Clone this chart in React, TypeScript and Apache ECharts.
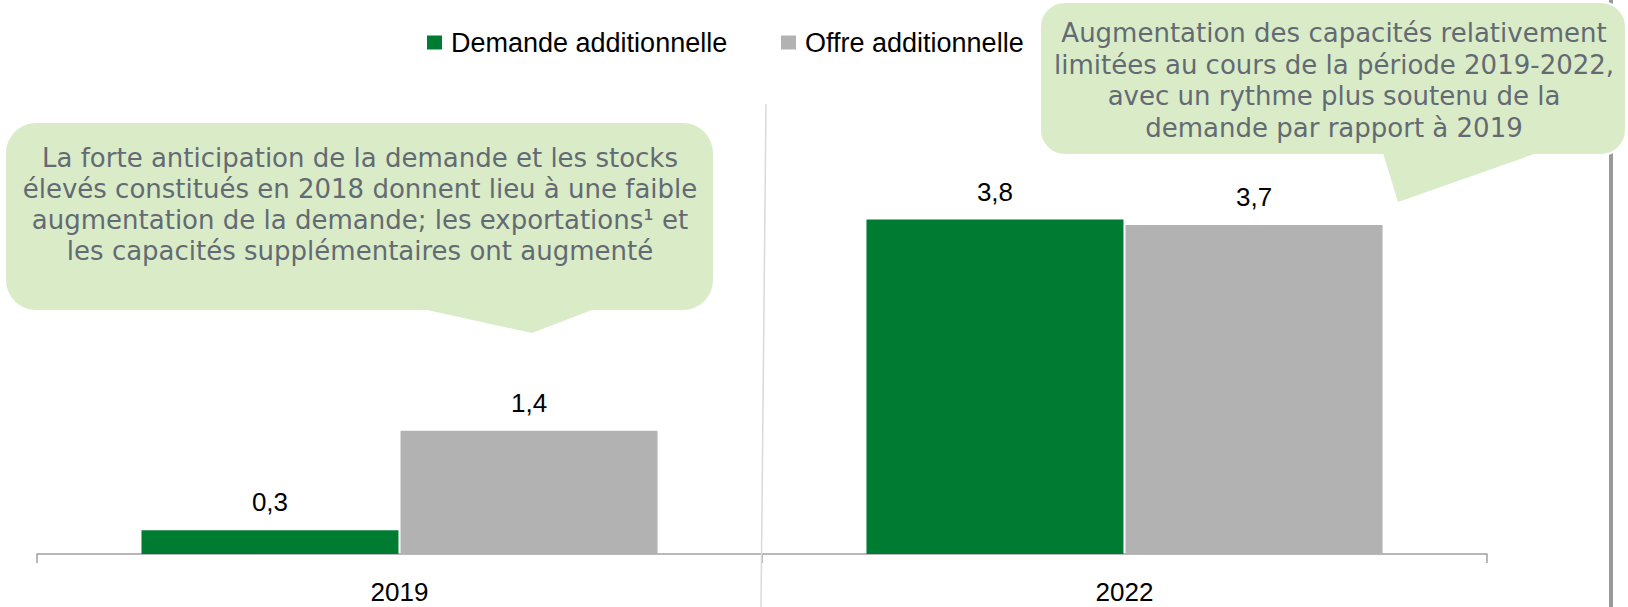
import React, { useEffect, useRef } from "react";
import * as echarts from "echarts";

const categories = ["2019", "2022"];
const demandeValues = [0.27, 3.8];
const offreValues = [1.4, 3.74];
const seriesNames = ["Demande additionnelle", "Offre additionnelle"];
const callout1Lines = [
  "La forte anticipation de la demande et les stocks",
  "élevés constitués en 2018 donnent lieu à une faible",
  "augmentation de la demande; les exportations¹ et",
  "les capacités supplémentaires ont augmenté",
];
const callout2Lines = [
  "Augmentation des capacités relativement",
  "limitées au cours de la période 2019-2022,",
  "avec un rythme plus soutenu de la",
  "demande par rapport à 2019",
];

const GREEN = "#007c32";
const GREY = "#b2b2b2";
const CALLOUT_FILL = "#d9ecc7";
const CALLOUT_TEXT = "#646a74";
const LABEL_FONT = "Liberation Sans";
const CALLOUT_FONT = "DejaVu Sans";

export default function App() {
  const ref = useRef<HTMLDivElement>(null);
  useEffect(() => {
    document.body.style.margin = "0";
    if (!ref.current) return;
    const chart = echarts.init(ref.current, null, { renderer: "svg" });
    const labelStyle = {
      show: true,
      position: "top" as const,
      distance: 15,
      color: "#000",
      fontFamily: LABEL_FONT,
      fontSize: 26,
      formatter: (p: any) => Number(p.value).toFixed(1).replace(".", ","),
    };
    const legendText = { fontFamily: LABEL_FONT, fontSize: 27, color: "#000", lineHeight: 27, padding: [0, 0, 0, 4] };
    chart.setOption({
      animation: false,
      backgroundColor: "#ffffff",
      legend: [
        {
          data: [seriesNames[0]],
          left: 427,
          top: 29,
          itemWidth: 15,
          itemHeight: 14,
          icon: "rect",
          padding: 0,
          textStyle: legendText,
        },
        {
          data: [seriesNames[1]],
          left: 781,
          top: 29,
          itemWidth: 15,
          itemHeight: 14,
          icon: "rect",
          padding: 0,
          textStyle: legendText,
        },
      ],
      grid: { left: 37, right: 141, top: 114, bottom: 53, containLabel: false },
      xAxis: {
        type: "category",
        data: categories,
        axisLine: { show: true, lineStyle: { color: "#a0a0a0", width: 1.5 } },
        axisTick: { show: true, length: 9, alignWithLabel: false, lineStyle: { color: "#a0a0a0", width: 1.5 } },
        axisLabel: { color: "#000", fontFamily: LABEL_FONT, fontSize: 26, margin: 25 },
        splitLine: { show: false },
      },
      yAxis: {
        type: "value",
        min: 0,
        max: 5,
        show: false,
        splitLine: { show: false },
      },
      series: [
        {
          name: seriesNames[0],
          type: "bar",
          data: demandeValues,
          barWidth: 257,
          barGap: "0.8%",
          itemStyle: { color: GREEN },
          label: labelStyle,
        },
        {
          name: seriesNames[1],
          type: "bar",
          data: offreValues,
          barWidth: 257,
          barGap: "0.8%",
          itemStyle: { color: GREY },
          label: labelStyle,
        },
      ],
      graphic: [
        {
          type: "line",
          z: 1,
          shape: { x1: 766, y1: 104, x2: 761, y2: 607 },
          style: { stroke: "#d9d9d9", lineWidth: 1.5 },
        },
        {
          type: "rect",
          z: 1,
          shape: { x: 1609, y: 0, width: 4, height: 607 },
          style: { fill: "#9a9a9a" },
        },
        {
          type: "rect",
          z: 10,
          shape: { x: 6, y: 123, width: 707, height: 187, r: 30 },
          style: { fill: CALLOUT_FILL },
        },
        {
          type: "polygon",
          z: 10,
          shape: { points: [[418, 308], [597, 308], [532, 333]] },
          style: { fill: CALLOUT_FILL },
        },
        {
          type: "text",
          z: 11,
          x: 360,
          y: 142,
          style: {
            text: callout1Lines.join("\n"),
            font: `26px "${CALLOUT_FONT}"`,
            fill: CALLOUT_TEXT,
            align: "center",
            verticalAlign: "top",
            lineHeight: 31,
          },
        },
        {
          type: "rect",
          z: 10,
          shape: { x: 1040, y: 2, width: 586, height: 153, r: 25 },
          style: { fill: CALLOUT_FILL, stroke: "#ffffff", lineWidth: 2 },
        },
        {
          type: "polygon",
          z: 10,
          shape: { points: [[1383, 153], [1537, 153], [1398, 202]] },
          style: { fill: CALLOUT_FILL },
        },
        {
          type: "text",
          z: 11,
          x: 1334,
          y: 17,
          style: {
            text: callout2Lines.join("\n"),
            font: `26px "${CALLOUT_FONT}"`,
            fill: CALLOUT_TEXT,
            align: "center",
            verticalAlign: "top",
            lineHeight: 31.7,
          },
        },
      ],
    });
    return () => chart.dispose();
  }, []);
  return <div ref={ref} style={{ width: 1628, height: 607 }} />;
}
